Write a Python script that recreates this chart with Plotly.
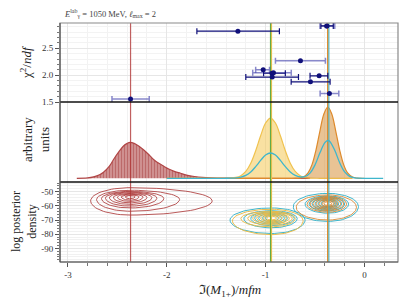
import numpy as np
import plotly.graph_objects as go
from plotly.subplots import make_subplots

# ---------------- data ----------------
# top panel: chi2/ndf of individual fits, x = Im(M1+) with lower/upper limits
fit_x_dark = [-0.38, -1.28, -0.935, -0.933, -0.458, -0.546]
fit_y_dark = [2.915, 2.818, 2.035, 1.963, 1.987, 1.875]
fit_lo_dark = [-0.44, -1.695, -1.02, -1.20, -0.55, -0.741]
fit_hi_dark = [-0.315, -0.86, -0.80, -0.667, -0.37, -0.347]

fit_x_light = [-0.38, -0.647, -1.024, -0.92, -0.354, -2.366]
fit_y_light = [2.915, 2.268, 2.10, 2.043, 1.657, 1.557]
fit_lo_light = [-0.45, -0.90, -1.10, -1.13, -0.448, -2.554]
fit_hi_light = [-0.30, -0.394, -0.96, -0.74, -0.259, -2.177]

# vertical reference lines (drawn in this order)
ref_x = [-2.366, -0.94, -0.95, -0.36, -0.372]
ref_names = ["red", "yellow", "green", "cyan", "orange"]

# middle panel: marginal distributions (arbitrary units)
red_x = [-2.91, -2.80, -2.74, -2.68, -2.64, -2.58, -2.54, -2.48, -2.44, -2.40, -2.37, -2.33,
         -2.28, -2.235, -2.18, -2.13, -2.08, -2.03, -1.98, -1.93, -1.86, -1.80, -1.72,
         -1.64, -1.55, -1.40, -0.55]
red_y = [0, 0.005, 0.02, 0.05, 0.085, 0.17, 0.26, 0.38, 0.45, 0.49, 0.505, 0.49,
         0.45, 0.40, 0.33, 0.26, 0.21, 0.17, 0.13, 0.10, 0.07, 0.045, 0.025,
         0.012, 0.005, 0.001, 0]

yel_x = [-2.0, -1.45, -1.35, -1.30, -1.25, -1.20, -1.15, -1.10, -1.05, -1.00, -0.95, -0.90,
         -0.85, -0.80, -0.75, -0.70, -0.65, -0.60, -0.55, -0.45, -0.12]
yel_y = [0, 0, 0.003, 0.012, 0.037, 0.096, 0.211, 0.387, 0.597, 0.775, 0.845, 0.775,
         0.597, 0.387, 0.211, 0.096, 0.037, 0.012, 0.003, 0, 0]

ora_x = [-2.0, -0.75, -0.70, -0.65, -0.61, -0.57, -0.53, -0.49, -0.45, -0.41, -0.37, -0.33,
         -0.29, -0.25, -0.21, -0.17, -0.12, -0.07, -0.02, 0.0]
ora_y = [0, 0, 0.001, 0.006, 0.024, 0.076, 0.192, 0.395, 0.662, 0.902, 1.0, 0.902,
         0.662, 0.395, 0.192, 0.076, 0.018, 0.003, 0, 0]

cya_x = [-2.0, -1.45, -1.40, -1.35, -1.30, -1.25, -1.20, -1.15, -1.10, -1.05, -1.00, -0.95,
         -0.90, -0.85, -0.80, -0.75, -0.70, -0.65, -0.60, -0.55, -0.50, -0.45, -0.40,
         -0.37, -0.35, -0.30, -0.25, -0.20, -0.15, -0.10, -0.05, 0.0, 0.19]
cya_y = [0, 0, 0.0003, 0.0014, 0.005, 0.016, 0.040, 0.088, 0.163, 0.251, 0.326, 0.355,
         0.326, 0.251, 0.163, 0.088, 0.041, 0.020, 0.025, 0.073, 0.187, 0.357, 0.501,
         0.53, 0.517, 0.392, 0.218, 0.089, 0.027, 0.006, 0.001, 0, 0]

# bottom panel: contour rings (centre x, centre y, left, right, top, bottom)
red_cx = -2.37
red_cy = [-56.5, -55.5, -54.8, -54.5, -54.2, -54.0, -53.8, -53.7, -53.6]
red_l = [-2.77, -2.71, -2.66, -2.62, -2.58, -2.54, -2.50, -2.46, -2.42]
red_r = [-1.54, -1.87, -2.03, -2.10, -2.15, -2.20, -2.24, -2.28, -2.32]
red_t = [-47.2, -49.0, -49.8, -50.3, -50.8, -51.3, -51.8, -52.3, -52.8]
red_b = [-66.5, -63.8, -61.5, -60.2, -59.0, -57.9, -56.9, -56.0, -55.0]

yel_cx = -0.94
yel_cy = [-70.5, -69.0, -68.8, -68.7, -68.7, -68.6, -68.6, -68.6]
yel_l = [-1.335, -1.25, -1.18, -1.13, -1.09, -1.05, -1.02, -0.99]
yel_r = [-0.62, -0.70, -0.73, -0.76, -0.79, -0.83, -0.86, -0.89]
yel_t = [-62.4, -63.8, -64.5, -65.1, -65.7, -66.3, -66.8, -67.3]
yel_b = [-80.3, -74.8, -73.6, -72.7, -71.9, -71.2, -70.6, -70.0]

cyl_cx = -0.94
cyl_cy = [-70.0, -69.0, -68.8, -68.7, -68.7, -68.6, -68.6]
cyl_l = [-1.36, -1.22, -1.15, -1.11, -1.07, -1.03, -1.00]
cyl_r = [-0.60, -0.68, -0.71, -0.78, -0.81, -0.84, -0.87]
cyl_t = [-61.5, -63.4, -64.2, -64.8, -65.4, -66.0, -66.5]
cyl_b = [-79.5, -75.5, -74.0, -73.0, -72.2, -71.5, -70.8]

ora_cx = -0.37
ora_cy = [-61.0, -58.8, -58.7, -58.6, -58.6, -58.6, -58.6, -58.6]
ora_l = [-0.69, -0.58, -0.55, -0.52, -0.49, -0.46, -0.43, -0.41]
ora_r = [-0.08, -0.18, -0.21, -0.24, -0.27, -0.29, -0.31, -0.33]
ora_t = [-52.3, -53.4, -54.0, -54.6, -55.2, -55.8, -56.4, -57.0]
ora_b = [-70.0, -64.5, -63.4, -62.5, -61.7, -61.0, -60.3, -59.7]

cyr_cx = -0.37
cyr_cy = [-60.5, -58.8, -58.7, -58.6, -58.6, -58.6, -58.6]
cyr_l = [-0.72, -0.60, -0.56, -0.53, -0.50, -0.47, -0.44]
cyr_r = [-0.06, -0.16, -0.20, -0.23, -0.26, -0.28, -0.30]
cyr_t = [-51.2, -53.0, -53.7, -54.3, -54.9, -55.5, -56.1]
cyr_b = [-71.0, -65.2, -63.8, -62.9, -62.1, -61.3, -60.6]

# ---------------- styling ----------------
FONT = "Liberation Serif"
NAVY = "#10107a"
NAVY_L = "rgba(40,40,160,0.55)"
C_RED = "#b04545"
C_GRN = "#62ab48"
C_YEL = "#f0c24e"
C_ORA = "#de8a2c"
C_CYA = "#3fb6cc"
ref_colors = {"red": "rgba(176,55,55,0.8)", "green": C_GRN, "yellow": C_YEL,
              "orange": C_ORA, "cyan": C_CYA}

X_RANGE = [-3.08, 0.34]
Y1_RANGE = [1.5, 2.97]
Y2_RANGE = [-0.052, 1.07]
Y3_RANGE = [-99.6, -43.2]

# the page has an 8px body margin; the figure is sized so that the plot area
# lands where the reference draws it
OFF = 8
W, H = 407 - OFF, 305 - OFF
L, R, T, B = 60 - OFF, 9, 23 - OFF, 43
PW, PH = W - L - R, H - T - B

fig = make_subplots(rows=3, cols=1, shared_xaxes=True, vertical_spacing=0,
                    row_heights=[79, 80, 80])


def add_ref_lines(row, yr):
    for xv, nm in zip(ref_x, ref_names):
        fig.add_trace(go.Scatter(x=[xv, xv], y=yr, mode="lines",
                                 line=dict(color=ref_colors[nm], width=1.2),
                                 hoverinfo="skip", showlegend=False), row=row, col=1)


# ---- top panel ----
def errs(x, lo, hi):
    return [h - v for v, h in zip(x, hi)], [v - l for v, l in zip(x, lo)]


add_ref_lines(1, Y1_RANGE)
p, m = errs(fit_x_light, fit_lo_light, fit_hi_light)
fig.add_trace(go.Scatter(x=fit_x_light, y=fit_y_light, mode="markers",
                         marker=dict(color=NAVY, size=5),
                         error_x=dict(type="data", array=p, arrayminus=m, color=NAVY_L,
                                      thickness=1.5, width=3),
                         showlegend=False), row=1, col=1)
p, m = errs(fit_x_dark, fit_lo_dark, fit_hi_dark)
fig.add_trace(go.Scatter(x=fit_x_dark, y=fit_y_dark, mode="markers",
                         marker=dict(color=NAVY, size=5),
                         error_x=dict(type="data", array=p, arrayminus=m, color=NAVY,
                                      thickness=1.2, width=3),
                         showlegend=False), row=1, col=1)

# ---- middle panel ----
fig.add_trace(go.Scatter(x=red_x, y=red_y, mode="lines", line=dict(color=C_RED, width=1.2, shape="spline"),
                         fill="tozeroy", fillcolor="rgba(185,95,95,0.75)",
                         fillpattern=dict(shape="|", size=3, solidity=0.45,
                                          fgcolor="rgba(160,50,50,0.9)",
                                          bgcolor="rgba(200,125,125,0.8)"),
                         showlegend=False), row=2, col=1)
fig.add_trace(go.Scatter(x=yel_x, y=yel_y, mode="lines", line=dict(color=C_YEL, width=1.2, shape="spline"),
                         fill="tozeroy", fillcolor="rgba(245,205,100,0.6)", showlegend=False), row=2, col=1)
fig.add_trace(go.Scatter(x=ora_x, y=ora_y, mode="lines", line=dict(color=C_ORA, width=1.2, shape="spline"),
                         fill="tozeroy", fillcolor="rgba(215,145,60,0.55)", showlegend=False), row=2, col=1)
add_ref_lines(2, Y2_RANGE)
fig.add_trace(go.Scatter(x=cya_x, y=cya_y, mode="lines", line=dict(color=C_CYA, width=1.3, shape="spline"),
                         showlegend=False), row=2, col=1)


# ---- bottom panel ----
def rings(cx, cys, ls, rs, ts, bs, n=20):
    xs, ys = [], []
    for cy, l, r, t, b in zip(cys, ls, rs, ts, bs):
        semi = [(r - cx, t - cy), (cx - l, t - cy), (cx - l, cy - b), (r - cx, cy - b)]
        for q, (ax, ay) in enumerate(semi):
            ang = np.linspace(q * np.pi / 2, (q + 1) * np.pi / 2, n)
            xs += list(cx + ax * np.cos(ang))
            ys += list(cy + ay * np.sin(ang))
        xs.append(None)
        ys.append(None)
    return xs, ys


for (cx, cys, ls, rs, ts, bs, col) in [
        (red_cx, red_cy, red_l, red_r, red_t, red_b, "rgba(170,50,50,0.8)"),
        (cyl_cx, cyl_cy, cyl_l, cyl_r, cyl_t, cyl_b, C_CYA),
        (cyr_cx, cyr_cy, cyr_l, cyr_r, cyr_t, cyr_b, C_CYA),
        (yel_cx, yel_cy, yel_l, yel_r, yel_t, yel_b, "rgba(235,185,70,0.95)"),
        (ora_cx, ora_cy, ora_l, ora_r, ora_t, ora_b, "rgba(215,130,40,0.85)")]:
    xs, ys = rings(cx, cys, ls, rs, ts, bs)
    fig.add_trace(go.Scatter(x=xs, y=ys, mode="lines", line=dict(color=col, width=1),
                             showlegend=False), row=3, col=1)
add_ref_lines(3, Y3_RANGE)

# ---- frame ----
d1 = 80 / PH
d2 = 160 / PH
shapes = [
    dict(type="rect", xref="paper", yref="paper", x0=0, x1=1, y0=0, y1=1,
         line=dict(color="#8a8a8a", width=1.2), layer="above"),
    dict(type="line", xref="paper", yref="paper", x0=0, x1=1, y0=d1, y1=d1,
         line=dict(color="#111111", width=1.4), layer="above"),
    dict(type="line", xref="paper", yref="paper", x0=0, x1=1, y0=d2, y1=d2,
         line=dict(color="#111111", width=1.4), layer="above"),
    dict(type="line", xref="paper", yref="paper", x0=0, x1=0, y0=0, y1=1,
         line=dict(color="#555555", width=1.2), layer="above"),
    dict(type="line", xref="paper", yref="paper", x0=0, x1=1, y0=0, y1=0,
         line=dict(color="#555555", width=1.2), layer="above"),
]

xgrid = dict(showgrid=True, gridcolor="#e6e6e6", gridwidth=1, dtick=1, tick0=0,
             minor=dict(dtick=0.2, showgrid=True, gridcolor="#f2f2f2"),
             range=X_RANGE, zeroline=False, showline=False)
for i in (1, 2, 3):
    fig.update_xaxes(**xgrid, row=i, col=1)
fig.update_xaxes(ticks="outside", ticklen=4, tickcolor="#555", tickvals=[-3, -2, -1, 0],
                 ticktext=["-3", "-2", "-1", "0"],
                 minor=dict(dtick=0.2, ticks="outside", ticklen=2.5, tickcolor="#777",
                            showgrid=True, gridcolor="#f2f2f2"),
                 tickfont=dict(size=9, color="#333"), row=3, col=1)

fig.update_yaxes(range=Y1_RANGE, tickvals=[1.5, 2.0, 2.5], ticktext=["1.5", "2.0", "2.5"],
                 ticks="outside", ticklen=4, tickcolor="#555", tickfont=dict(size=9, color="#333"),
                 showgrid=True, gridcolor="#e6e6e6", zeroline=False,
                 minor=dict(dtick=0.1, tick0=1.5, ticks="outside", ticklen=2, tickcolor="#777",
                            showgrid=True, gridcolor="#f3f3f3"),
                 row=1, col=1)
fig.update_yaxes(range=Y2_RANGE, showticklabels=False, showgrid=False, zeroline=False,
                 ticks="", row=2, col=1)
fig.update_yaxes(range=Y3_RANGE, tickvals=[-50, -60, -70, -80, -90],
                 ticktext=["-50", "-60", "-70", "-80", "-90"],
                 ticks="outside", ticklen=4, tickcolor="#555", tickfont=dict(size=9, color="#333"),
                 showgrid=True, gridcolor="#e6e6e6", zeroline=False,
                 minor=dict(dtick=2, tick0=-50, ticks="outside", ticklen=2, tickcolor="#777",
                            showgrid=True, gridcolor="#f1f1f1"),
                 row=3, col=1)


def px2x(px):
    return (px - OFF - L) / PW


def py2y(py):
    return 1 - (py - OFF - T) / PH


annotations = [
    dict(text="<i>E</i><sup>lab</sup><sub>γ</sub> = 1050 MeV, <i>ℓ</i><sub>max</sub> = 2",
         xref="paper", yref="paper", x=px2x(62), y=py2y(13), xanchor="left", yanchor="middle",
         showarrow=False, font=dict(size=8.5, color="#444")),
    dict(text="χ<sup>2</sup>/<i>ndf</i>", xref="paper", yref="paper", x=px2x(26), y=py2y(62),
         xanchor="center", yanchor="middle",
         textangle=-90, showarrow=False, font=dict(size=13, color="#222")),
    dict(text="arbitrary<br>units", xref="paper", yref="paper", x=px2x(36), y=py2y(140),
         xanchor="center", yanchor="middle",
         textangle=-90, showarrow=False, font=dict(size=13, color="#222")),
    dict(text="log posterior<br>density", xref="paper", yref="paper", x=px2x(24), y=py2y(222),
         xanchor="center", yanchor="middle",
         textangle=-90, showarrow=False, font=dict(size=12, color="#222")),
    dict(text="ℑ(<i>M</i><sub>1+</sub>)/<i>mfm</i>", xref="paper", yref="paper",
         x=px2x(230), y=py2y(290), xanchor="center", yanchor="middle",
         showarrow=False, font=dict(size=13, color="#222")),
]

fig.update_layout(width=W, height=H, margin=dict(l=L, r=R, t=T, b=B, autoexpand=False),
                  paper_bgcolor="white", plot_bgcolor="white",
                  font=dict(family=FONT, size=10, color="#333"),
                  shapes=shapes, annotations=annotations, showlegend=False)

fig.write_html("out.html")
